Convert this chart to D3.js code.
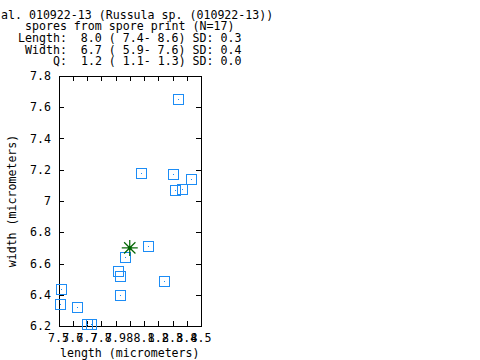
<!DOCTYPE html>
<html><head><meta charset="utf-8">
<script src="https://cdn.jsdelivr.net/npm/d3@7"></script>
<style>body{margin:0;background:#fff}svg{display:block}text{font-family:"DejaVu Sans Mono",monospace;font-size:11.6px;fill:#000}</style>
</head><body><svg id="c" width="480" height="360"></svg>
<script>
const titleLines = [
  "al. 010922-13 (Russula sp. (010922-13))",
  "spores from spore print (N=17)",
  "Length:  8.0 ( 7.4- 8.6) SD: 0.3",
  "Width:  6.7 ( 5.9- 7.6) SD: 0.4",
  "Q:  1.2 ( 1.1- 1.3) SD: 0.0"
];
const lengths = [8.34, 8.08, 8.30, 8.43, 8.32, 8.37, 7.97, 8.13, 7.92, 7.93, 8.24, 7.93, 7.52, 7.51, 7.63, 7.70, 7.73];
const widths  = [7.65, 7.18, 7.17, 7.14, 7.07, 7.075, 6.64, 6.715, 6.55, 6.52, 6.49, 6.40, 6.44, 6.34, 6.32, 6.215, 6.215];
const meanPoint = [8.0, 6.7];
const xTicks = [7.5, 7.6, 7.7, 7.8, 7.9, 8, 8.1, 8.2, 8.3, 8.4, 8.5];
const yTicks = [6.2, 6.4, 6.6, 6.8, 7, 7.2, 7.4, 7.6, 7.8];
const xLabel = "length (micrometers)";
const yLabel = "width (micrometers)";

const svg = d3.select("#c");
const L = 58.5, R = 201, T = 76, B = 326;
const x = d3.scaleLinear().domain([7.5, 8.5]).range([L, R]);
const y = d3.scaleLinear().domain([6.2, 7.8]).range([B, T]);

// title
const tx = [1, 25, 18, 25, 53];
const ty = [18.5, 30.2, 42, 53.7, 65.4];
titleLines.forEach((t, i) => {
  svg.append("text").attr("x", tx[i]).attr("y", ty[i]).attr("xml:space", "preserve").text(t);
});

const g = svg.append("g").attr("shape-rendering", "crispEdges");
const tl = 5;
// ticks
xTicks.forEach(v => {
  const px = Math.round(x(v)) + 0.5;
  g.append("line").attr("x1", px).attr("x2", px).attr("y1", B).attr("y2", B - tl).attr("stroke", "#000");
  g.append("line").attr("x1", px).attr("x2", px).attr("y1", T).attr("y2", T + tl).attr("stroke", "#000");
  svg.append("text").attr("x", x(v)).attr("y", 342).attr("text-anchor", "middle").text(d3.format("")(v));
});
yTicks.forEach(v => {
  const py = Math.round(y(v)) + 0.5;
  g.append("line").attr("x1", L).attr("x2", L + tl).attr("y1", py).attr("y2", py).attr("stroke", "#000");
  g.append("line").attr("x1", R).attr("x2", R - tl).attr("y1", py).attr("y2", py).attr("stroke", "#000");
  svg.append("text").attr("x", 51).attr("y", y(v) + 4).attr("text-anchor", "end").text(d3.format("")(v));
});
// frame
g.append("rect").attr("x", Math.round(L) + 0.5).attr("y", T + 0.5).attr("width", Math.round(R) - Math.round(L)).attr("height", B - T)
  .attr("fill", "none").attr("stroke", "#000");

// points
const col = "#1c8cf5";
const pts = svg.append("g");
lengths.forEach((lv, i) => {
  const cx = Math.round(x(lv)), cy = Math.round(y(widths[i]));
  pts.append("rect").attr("x", cx - 4.5).attr("y", cy - 4.5).attr("width", 10).attr("height", 10)
    .attr("fill", "none").attr("stroke", col).attr("stroke-width", 1.4).attr("shape-rendering", "crispEdges");
  pts.append("rect").attr("x", cx).attr("y", cy).attr("width", 1).attr("height", 1).attr("fill", col);
});

// mean star
const mx = x(meanPoint[0]), my = y(meanPoint[1]);
const sg = svg.append("g").attr("stroke", "#006400").attr("stroke-width", 1.2);
const r = 8;
[0, 45, 90, 135].forEach(a => {
  const rad = a * Math.PI / 180;
  sg.append("line").attr("x1", mx - r * Math.cos(rad)).attr("y1", my - r * Math.sin(rad))
    .attr("x2", mx + r * Math.cos(rad)).attr("y2", my + r * Math.sin(rad));
});
svg.append("circle").attr("cx", mx).attr("cy", my).attr("r", 2).attr("fill", "#006400");

// axis labels
svg.append("text").attr("x", (L + R) / 2).attr("y", 357).attr("text-anchor", "middle").text(xLabel);
svg.append("text").attr("transform", `translate(16,${(T + B) / 2}) rotate(-90)`).attr("text-anchor", "middle").text(yLabel);
</script></body></html>
